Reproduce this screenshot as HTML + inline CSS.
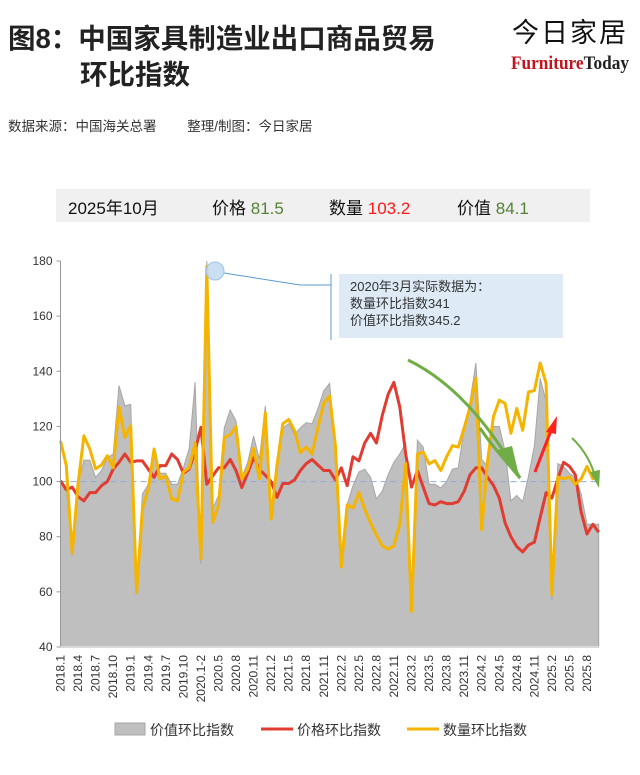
<!DOCTYPE html>
<html><head><meta charset="utf-8"><style>
body{margin:0;width:640px;height:775px;background:#fff;overflow:hidden;font-family:"Liberation Sans","Noto Sans CJK SC",sans-serif;}
svg{position:absolute;left:0;top:0}
</style></head><body>
<svg id="c" width="640" height="775" viewBox="0 0 640 775">
<text x="8" y="48" font-size="27.5" font-weight="bold" fill="#222" font-family="Liberation Sans, Noto Sans CJK SC, sans-serif">图8：中国家具制造业出口商品贸易</text>
<text x="80" y="84" font-size="27.5" font-weight="bold" fill="#222" font-family="Liberation Sans, Noto Sans CJK SC, sans-serif">环比指数</text>
<text x="512" y="42" font-size="27" fill="#111" letter-spacing="2" font-family="Liberation Sans, Noto Sans CJK SC, sans-serif">今日家居</text>
<text x="511" y="69" font-size="19" font-weight="bold" font-family="Liberation Serif, serif" textLength="118" lengthAdjust="spacingAndGlyphs"><tspan fill="#c0151f">Furniture</tspan><tspan fill="#222">Today</tspan></text>
<text x="8" y="131" font-size="13.5" fill="#333" font-family="Liberation Sans, Noto Sans CJK SC, sans-serif">数据来源：中国海关总署　　 整理/制图：今日家居</text>
<rect x="56" y="189" width="534" height="33" fill="#f0f0f0"/>
<g font-size="17" font-family="Liberation Sans, Noto Sans CJK SC, sans-serif" fill="#111">
<text x="68" y="214">2025年10月</text>
<text x="212" y="214">价格 <tspan fill="#548235">81.5</tspan></text>
<text x="329" y="214">数量 <tspan fill="#ff1a1a">103.2</tspan></text>
<text x="457" y="214">价值 <tspan fill="#548235">84.1</tspan></text>
</g>
<g id="plot"></g>
<g id="xlabels"></g>
<circle cx="215" cy="271" r="9" fill="#bdd7ee" fill-opacity="0.8" stroke="#9dc3e6"/>
<polyline points="224,273 300,285 331,285" fill="none" stroke="#5b9bd5" stroke-width="1"/>
<line x1="331" y1="274" x2="331" y2="340" stroke="#5b9bd5" stroke-width="1"/>
<rect x="339" y="274" width="224" height="64" fill="#deebf7"/>
<g font-size="13" fill="#333" font-family="Liberation Sans, Noto Sans CJK SC, sans-serif">
<text x="350" y="291">2020年3月实际数据为：</text>
<text x="350" y="308">数量环比指数341</text>
<text x="350" y="325">价值环比指数345.2</text>
</g>
<path d="M408,360 Q470,390 520,478 L510,462 M520,478 L498,452 Q488,440 480,428" fill="none" stroke="#70ad47" stroke-width="3"/>
<polygon points="520,480 497,450 512,446" fill="#70ad47"/>
<line x1="535" y1="472" x2="552" y2="428" stroke="#ff2020" stroke-width="3"/>
<polygon points="557,416 546,432 556,434" fill="#ff2020"/>
<path d="M572,438 Q590,455 596,480" fill="none" stroke="#70ad47" stroke-width="2"/>
<polygon points="599,488 590,472 600,470" fill="#70ad47"/>
<g font-size="14" fill="#333" font-family="Liberation Sans, Noto Sans CJK SC, sans-serif">
<rect x="115" y="723" width="30" height="12" fill="#bfbfbf" stroke="#a6a6a6"/>
<text x="150" y="735">价值环比指数</text>
<line x1="261" y1="729" x2="293" y2="729" stroke="#e03c31" stroke-width="3"/>
<text x="297" y="735">价格环比指数</text>
<line x1="407" y1="729" x2="439" y2="729" stroke="#f5b400" stroke-width="3"/>
<text x="443" y="735">数量环比指数</text>
</g>
</svg>
<script>
var categories=[];
(function(){for(var y=2018;y<=2025;y++){for(var m=1;m<=12;m++){if(y===2020&&m===2)continue;if(y===2025&&m>10)break;categories.push(y===2020&&m===1?'2020.1-2':y+'.'+m);}}})();
var tickValues=[40,60,80,100,120,140,160,180];
var priceIndex=[100.3,97,98,94.5,93,96,96,98.5,100,104.5,107,110,107,107.5,107.5,104.5,101.5,105.8,105.8,110,108,103,104.5,111,119.7,99,102,105,105,108,104,97.8,103,108.8,104.4,102.3,100,94.3,99.3,99.3,100.6,104,106.5,108,106,104,104,100.6,105,98.5,109,107.5,114,117.5,114,124,131.6,136,127,110,98,104,98,92,91.5,92.7,92,92,92.7,96.5,102.5,105,105,101.5,98.7,94,85,80,76.4,74.5,77,78,87,96,94,101,107,105.5,102.5,89,81,84.5,81.6];
var quantityIndex=[114.8,105.8,74,99,116.6,111.8,104.6,106,109.4,105,127,116,120.3,59.7,90,97.3,111.8,101,102,93.7,93,103.5,105,114,72,178,85.2,91.3,116,117,120,101,104.5,112,101,125,86.4,106,121,122.5,118.5,110.5,112.5,110,119.5,128.5,131,113,69,91.6,90.4,96,90,85,80.5,76.7,75.5,76.7,84.7,106.5,53,110,110.7,106.4,107.6,104,109,113,112.5,119.5,127,137.5,82.5,107.6,123.5,129.5,128.3,117.5,126.5,118.6,132.5,133,143,135.6,59,101.7,101,101.7,99,101,105.5,101,104];
var valueIndex=[100,97.7,73,99,107.8,107.8,101.5,104,108.6,110,134.8,127.5,128,61,95.5,99,112,103,103,99,99,105,112,136,70,180,90,95,119.5,126,122,101.5,107,116.5,108,127.5,86.4,105,119.5,121,117,119.5,121.4,121,126.4,133,135.6,114,69.5,91.7,98.5,103.5,104.5,101.5,93.7,96.5,102.5,107,110,114,53,115,112.5,99,99,97.7,100,104.5,105,119.5,129,143,108,105.5,120,120,111,93,95,92.7,102,113,137.5,129,57,106.5,105.5,103,101.5,95.6,84.5,84.5,84.5];
var NS='http://www.w3.org/2000/svg';
var X0=60.5,X1=598.7,Y0=647,Y1=261,VMIN=40,VMAX=180;
function xs(i){return X0+(X1-X0)*i/(categories.length-1);}
function ys(v){v=Math.max(VMIN,Math.min(VMAX,v));return Y0-(v-VMIN)*(Y0-Y1)/(VMAX-VMIN);}
var plot=document.getElementById('plot');
function mk(t,a){var e=document.createElementNS(NS,t);for(var k in a)e.setAttribute(k,a[k]);return e;}
var d='M'+xs(0)+','+Y0;
valueIndex.forEach(function(v,i){d+=' L'+xs(i).toFixed(1)+','+ys(v).toFixed(1);});
d+=' L'+xs(valueIndex.length-1)+','+Y0+' Z';
var area=mk('path',{d:d,fill:'#bfbfbf',stroke:'#a6a6a6','stroke-width':1});


plot.appendChild(area);
var ref=mk('line',{x1:X0,x2:X1,y1:ys(100),y2:ys(100),stroke:'#8faadc','stroke-width':1,'stroke-dasharray':'6,4'});


plot.appendChild(ref);
function line(arr,col,name){var p=arr.map(function(v,i){return xs(i).toFixed(1)+','+ys(v).toFixed(1);}).join(' ');
var l=mk('polyline',{points:p,fill:'none',stroke:col,'stroke-width':3,'stroke-linejoin':'round'});


plot.appendChild(l);}
line(priceIndex,'#e03c31','price-index-line');
line(quantityIndex,'#f5b400','quantity-index-line');
var ya=mk('line',{x1:X0,x2:X0,y1:Y1,y2:Y0,stroke:'#999','stroke-width':1});


plot.appendChild(ya);
var xa=mk('line',{x1:X0,x2:X1,y1:Y0,y2:Y0,stroke:'#d9d9d9','stroke-width':2});


plot.appendChild(xa);
tickValues.forEach(function(v){
var t=mk('text',{x:X0-8,y:ys(v)+4,'text-anchor':'end','font-size':12,fill:'#333'});
t.textContent=v;


plot.appendChild(t);
var tk=mk('line',{x1:X0-4,x2:X0,y1:ys(v),y2:ys(v),stroke:'#999'});


plot.appendChild(tk);});
var xl=document.getElementById('xlabels');
categories.forEach(function(c,i){if(i%3!==0)return;
var x=xs(i)+4,y=655;
var t=mk('text',{x:x,y:y,transform:'rotate(-90 '+x+' '+y+')','text-anchor':'end','font-size':12,fill:'#333'});
t.textContent=c;


xl.appendChild(t);});
</script>
</body></html>
